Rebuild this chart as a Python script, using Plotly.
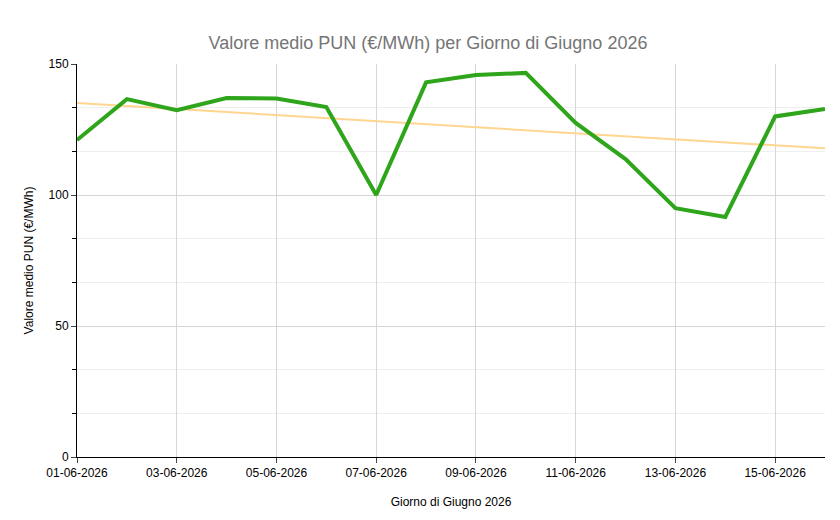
import numpy as np
import plotly.graph_objects as go

days = [f"2026-06-{d:02d}" for d in range(1, 17)]
pun = [121, 136.6, 132.4, 137, 136.8, 133.6, 100, 143, 145.8, 146.6, 127.5, 113.7, 95, 91.6, 130, 132.8]

xi = np.arange(len(pun))
m, b = np.polyfit(xi, pun, 1)
trend = (m * xi + b).tolist()

fig = go.Figure()
fig.add_trace(go.Scatter(x=days, y=trend, mode="lines", line=dict(color="#FFD58F", width=2), hoverinfo="skip", showlegend=False))
fig.add_trace(go.Scatter(x=days, y=pun, mode="lines", line=dict(color="#2EA51A", width=4), showlegend=False))

tickvals = days[::2]
ticktext = [f"{d[8:]}-06-2026" for d in tickvals]
fig.update_layout(
    width=840, height=520, plot_bgcolor="white", paper_bgcolor="white",
    margin=dict(l=69, r=23, t=56, b=71),
    font=dict(family="Arial, Liberation Sans", size=12, color="#000"),
    title=dict(text="Valore medio PUN (€/MWh) per Giorno di Giugno 2026", x=0.5, xanchor="center", y=0.945,
               font=dict(size=18, color="#757575")),
    xaxis=dict(tickvals=tickvals, ticktext=ticktext, range=[days[0], days[-1]], showgrid=True, gridcolor="#d6d6d6",
               showline=True, linecolor="#000", ticks="outside", ticklen=5,
               title=dict(text="Giorno di Giugno 2026", font=dict(size=12), standoff=18)),
    yaxis=dict(range=[0, 150], tickvals=[0, 50, 100, 150], showgrid=True, gridcolor="#d6d6d6",
               minor=dict(dtick=50/3, tick0=0, showgrid=True, gridcolor="#eeeeee", ticks="outside", ticklen=4, tickcolor="#000"),
               showline=True, linecolor="#000", ticks="outside", ticklen=5, zeroline=False,
               title=dict(text="Valore medio PUN (€/MWh)", font=dict(size=12), standoff=12)),
)
fig.write_html("out.html")
